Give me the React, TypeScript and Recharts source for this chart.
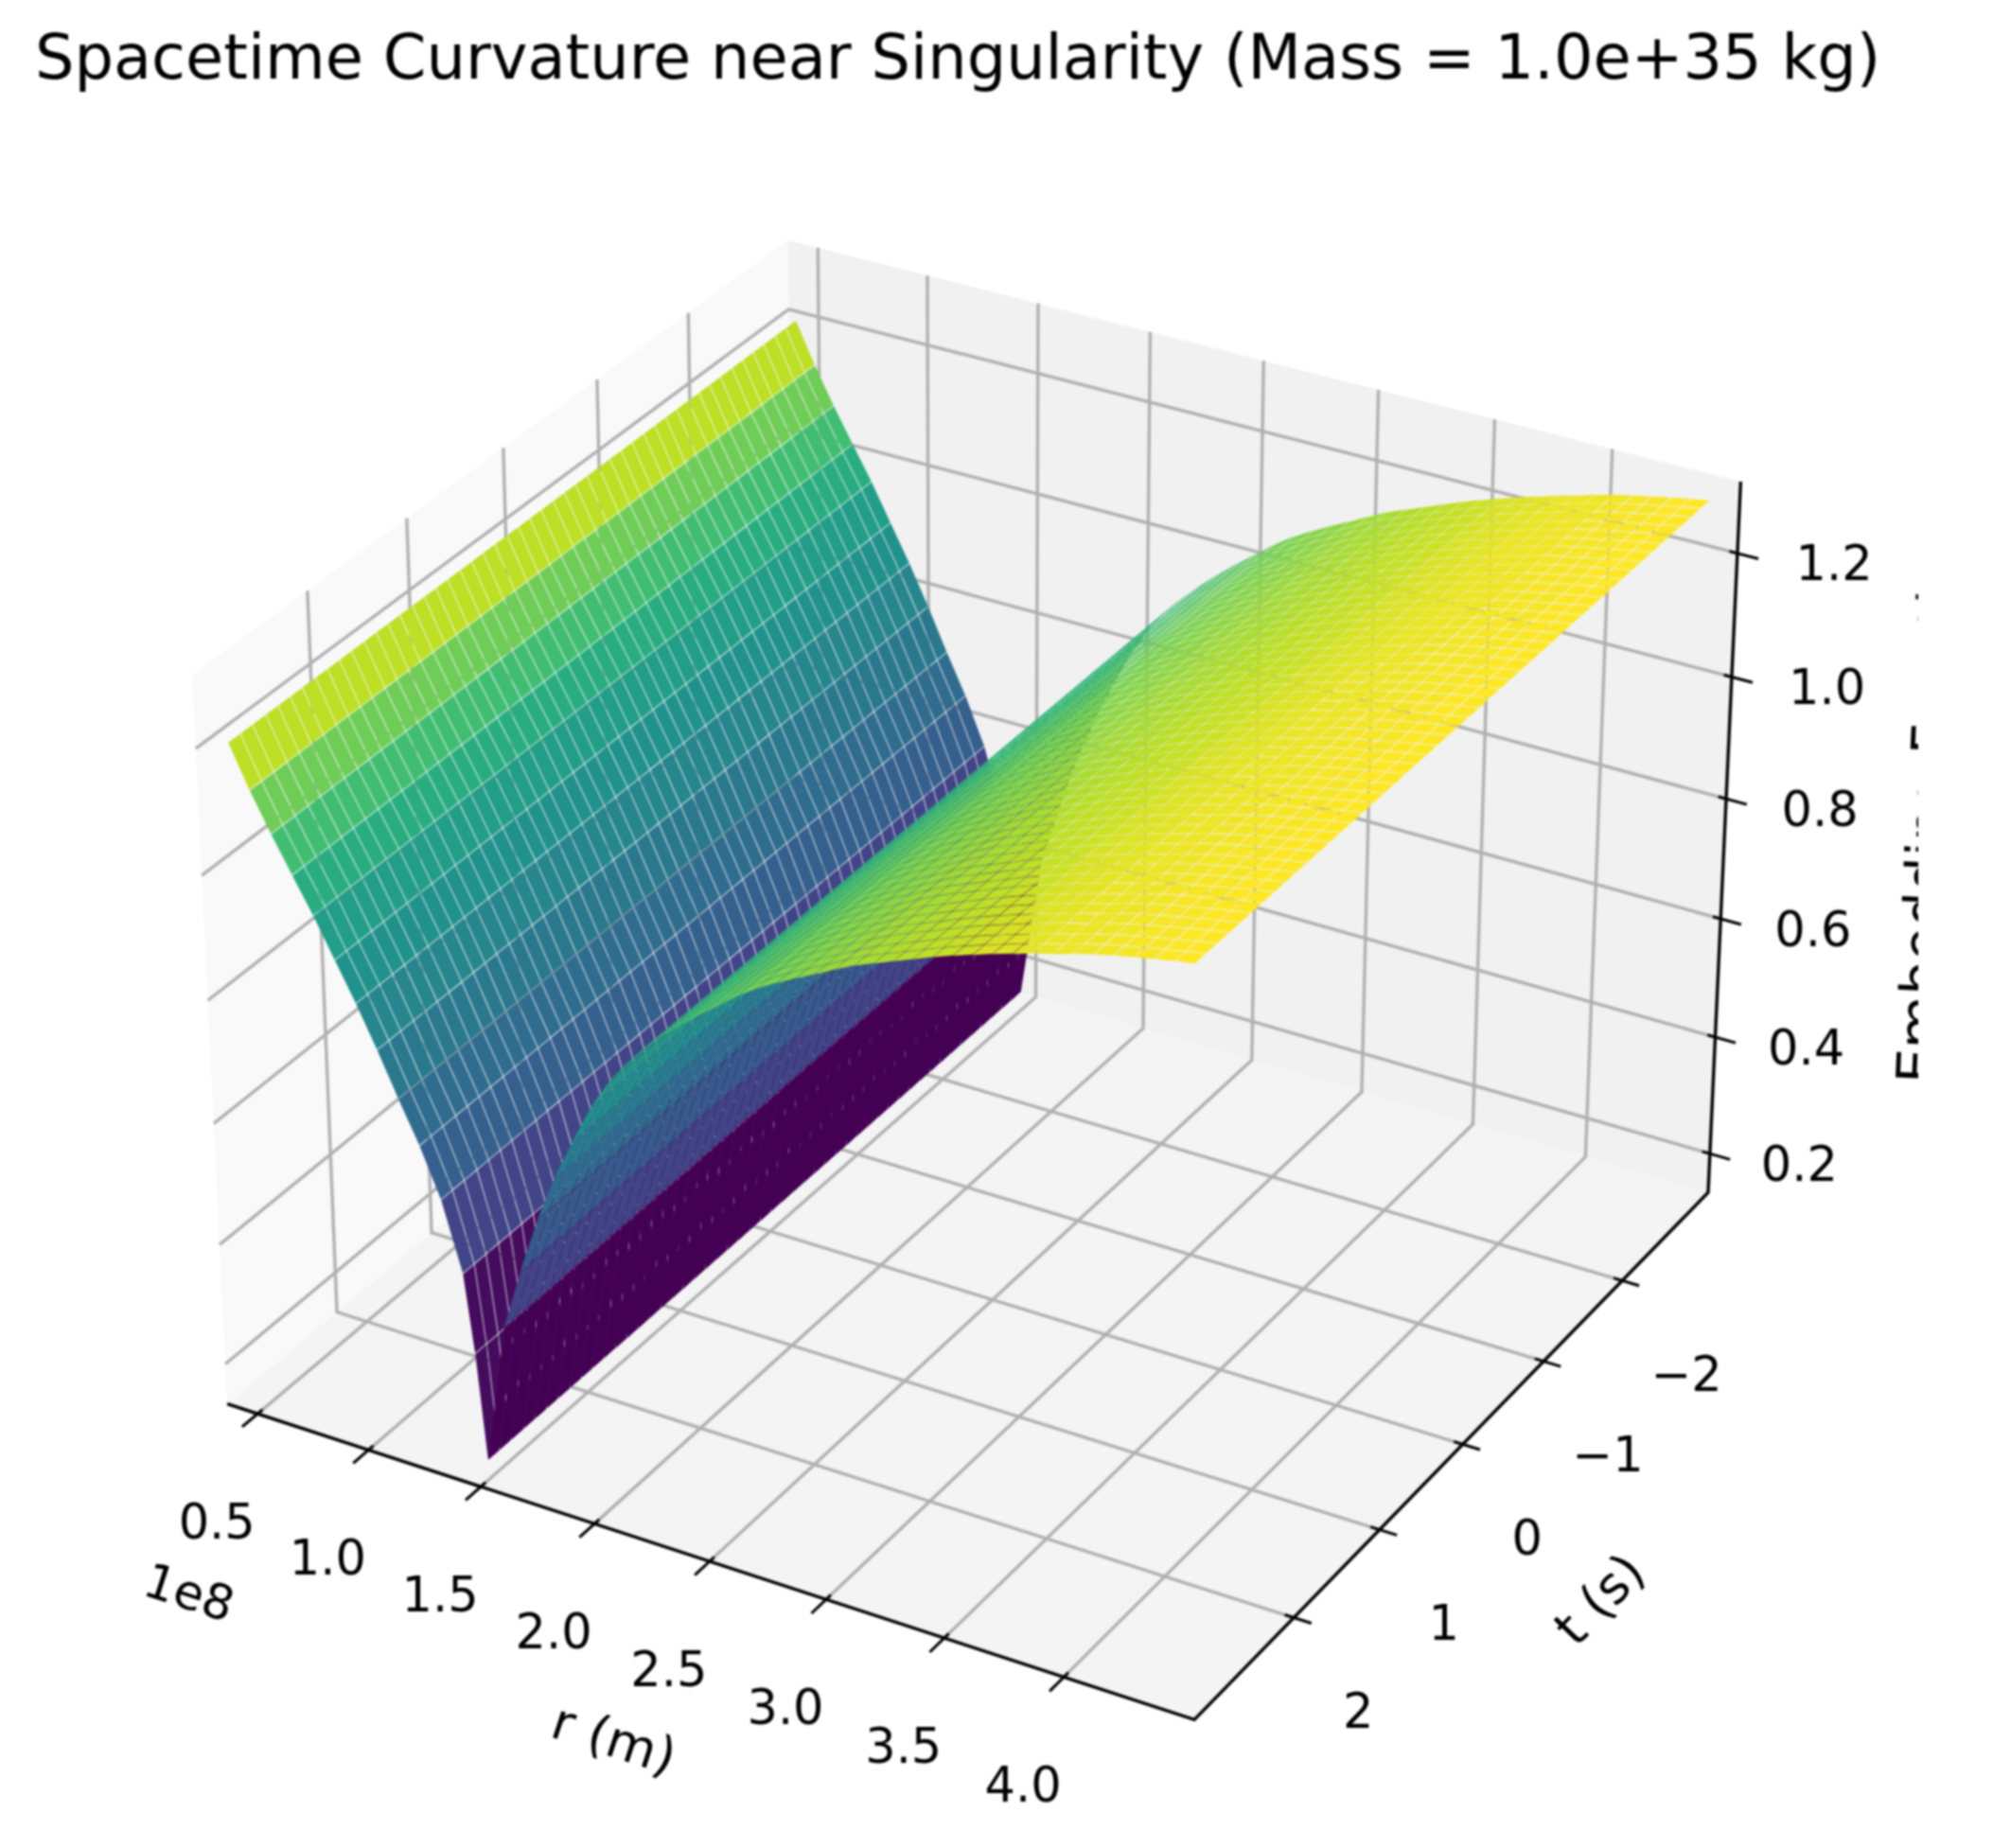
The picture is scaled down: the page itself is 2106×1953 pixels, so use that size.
import React from "react";
import { ComposedChart, Scatter, XAxis, YAxis } from "recharts";

// ---- values ----
const rTicks = [0.5, 1.0, 1.5, 2.0, 2.5, 3.0, 3.5, 4.0];
const tTicks = [-2, -1, 0, 1, 2];
const zTicks = [0.2, 0.4, 0.6, 0.8, 1.0, 1.2];
const rLim = [0.362, 4.5385];
const tLim = [3.125, -3.125];
const zLim = [0.1326, 1.3146];

const rGrid = [
  0.446, 0.532, 0.618, 0.704, 0.79, 0.877, 0.963, 1.049, 1.135, 1.221, 1.308, 1.394, 1.437, 1.48, 1.569, 1.649, 1.729,
  1.809, 1.889, 1.97, 2.05, 2.13, 2.21, 2.29, 2.37, 2.451, 2.531, 2.611, 2.691, 2.771, 2.851, 2.931, 3.012, 3.092,
  3.172, 3.252, 3.332, 3.412, 3.493, 3.573, 3.653, 3.733, 3.813, 3.893, 3.974, 4.054, 4.134, 4.214, 4.294, 4.375, 4.455,
];
const tGrid = [
  -3.0, -2.88, -2.76, -2.63, -2.51, -2.39, -2.27, -2.14, -2.02, -1.9, -1.78, -1.65, -1.53, -1.41, -1.29, -1.16, -1.04,
  -0.92, -0.8, -0.67, -0.55, -0.43, -0.31, -0.18, -0.06, 0.06, 0.18, 0.31, 0.43, 0.55, 0.67, 0.8, 0.92, 1.04, 1.16,
  1.29, 1.41, 1.53, 1.65, 1.78, 1.9, 2.02, 2.14, 2.27, 2.39, 2.51, 2.63, 2.76, 2.88, 3.0,
];
const zProfile = [
  1.203, 1.137, 1.077, 1.021, 0.966, 0.905, 0.845, 0.78, 0.711, 0.645, 0.567, 0.456, 0.329, 0.156, 0.388, 0.49, 0.583,
  0.66, 0.727, 0.79, 0.84, 0.88, 0.913, 0.942, 0.968, 0.993, 1.016, 1.04, 1.06, 1.077, 1.093, 1.108, 1.124, 1.139,
  1.151, 1.163, 1.175, 1.187, 1.198, 1.208, 1.218, 1.227, 1.236, 1.244, 1.253, 1.261, 1.268, 1.274, 1.28, 1.286, 1.291,
];
const bandLevels = [
  0.9, 0.78, 0.69, 0.62, 0.55, 0.5, 0.45, 0.4, 0.35, 0.3, 0.2, 0.03, 0.03, 0.0, 0.2, 0.28, 0.35, 0.42, 0.49, 0.55, 0.6,
  0.64, 0.67, 0.7, 0.72, 0.746, 0.768, 0.788, 0.804, 0.82, 0.832, 0.846, 0.86, 0.87, 0.882, 0.893, 0.904, 0.913, 0.923,
  0.94, 0.95, 0.96, 0.97, 0.975, 0.98, 0.985, 0.99, 0.99, 1.0, 1.0,
];
const viridis = [
  "#440154", "#482475", "#414487", "#355f8d", "#2a788e", "#21918c", "#22a884", "#44bf70", "#7ad151", "#bddf26", "#fde725",
];

// ---- 3D camera (elevation 30, azimuth -60, distance 10, box 4:4:3) ----
const boxW = 1.1905;
const boxH = 0.8929;
const centre = [1037, 998];
const zoomPx = 9834;
const seam = 0.42;
const toFrac = (v: number, lim: number[]) => (v - lim[0]) / (lim[1] - lim[0]);
const project = (a: number, b: number, c: number) => {
  const dx = (a - 0.5) * boxW;
  const dy = (b - 0.5) * boxW;
  const dz = (c - 0.5) * boxH;
  const D = 10 - (0.433 * dx - 0.75 * dy + 0.5 * dz);
  return {
    px: centre[0] + (zoomPx * (0.866 * dx + 0.5 * dy)) / D,
    py: centre[1] - (zoomPx * (-0.25 * dx + 0.433 * dy + 0.866 * dz)) / D,
    depth: D,
  };
};

const hex = (h: string) => [1, 3, 5].map((i) => parseInt(h.slice(i, i + 2), 16));
const colour = (v: number) => {
  const p = Math.min(0.9999, Math.max(0, v)) * (viridis.length - 1);
  const i = Math.floor(p);
  const A = hex(viridis[i]);
  const B = hex(viridis[i + 1]);
  const m = A.map((x, n) => Math.round(x + (B[n] - x) * (p - i)));
  return `rgb(${m[0]},${m[1]},${m[2]})`;
};

const polygonRow = (corners: { px: number; py: number; depth: number }[], fill: string) => {
  const cx = corners.reduce((s, c) => s + c.px, 0) / corners.length;
  const cy = corners.reduce((s, c) => s + c.py, 0) / corners.length;
  const depth = corners.reduce((s, c) => s + c.depth, 0) / corners.length;
  return { px: cx, py: cy, depth, fill, off: corners.map((c) => [c.px - cx, c.py - cy]) };
};

// pull every edge of a convex quad inward by a fixed distance, so the seams keep one width
const insetQuad = (off: number[][], g: number) => {
  const n = off.length;
  let area = 0;
  for (let i = 0; i < n; i++) {
    const p = off[i];
    const q = off[(i + 1) % n];
    area += p[0] * q[1] - q[0] * p[1];
  }
  if (Math.abs(area) < 1e-6) return off;
  const sign = area > 0 ? 1 : -1;
  return off.map((p, i) => {
    const prev = off[(i + n - 1) % n];
    const next = off[(i + 1) % n];
    const e1 = [p[0] - prev[0], p[1] - prev[1]];
    const e2 = [next[0] - p[0], next[1] - p[1]];
    const l1 = Math.hypot(e1[0], e1[1]) || 1;
    const l2 = Math.hypot(e2[0], e2[1]) || 1;
    const n1 = [(-e1[1] / l1) * sign, (e1[0] / l1) * sign];
    const n2 = [(-e2[1] / l2) * sign, (e2[0] / l2) * sign];
    const denom = 1 + n1[0] * n2[0] + n1[1] * n2[1];
    if (denom < 0.25) return p;
    const mx = ((n1[0] + n2[0]) / denom) * g;
    const my = ((n1[1] + n2[1]) / denom) * g;
    return [p[0] + mx, p[1] + my];
  });
};

const panes = [
  polygonRow([project(0, 0, 0), project(1, 0, 0), project(1, 1, 0), project(0, 1, 0)], "#f4f4f4"),
  polygonRow([project(0, 0, 0), project(0, 1, 0), project(0, 1, 1), project(0, 0, 1)], "#f9f9f9"),
  polygonRow([project(0, 1, 0), project(1, 1, 0), project(1, 1, 1), project(0, 1, 1)], "#f1f1f1"),
];

const quads: ReturnType<typeof polygonRow>[] = [];
for (let i = 0; i < rGrid.length - 1; i++) {
  for (let j = 0; j < tGrid.length - 1; j++) {
    const a0 = toFrac(rGrid[i], rLim);
    const a1 = toFrac(rGrid[i + 1], rLim);
    const b0 = toFrac(tGrid[j], tLim);
    const b1 = toFrac(tGrid[j + 1], tLim);
    const c0 = toFrac(zProfile[i], zLim);
    const c1 = toFrac(zProfile[i + 1], zLim);
    quads.push(
      polygonRow([project(a0, b0, c0), project(a1, b0, c1), project(a1, b1, c1), project(a0, b1, c0)], colour(bandLevels[i]))
    );
  }
}
quads.sort((p, q) => q.depth - p.depth);

type P3 = [number, number, number];
const gridSegs: P3[][] = [];
rTicks.forEach((r) => {
  const a = toFrac(r, rLim);
  gridSegs.push([[a, 0, 0], [a, 1, 0], [a, 1, 1]]);
});
tTicks.forEach((t) => {
  const b = toFrac(t, tLim);
  gridSegs.push([[1, b, 0], [0, b, 0], [0, b, 1]]);
});
zTicks.forEach((z) => {
  const c = toFrac(z, zLim);
  gridSegs.push([[0, 0, c], [0, 1, c], [1, 1, c]]);
});
const axisSegs: P3[][] = [
  [[0, 0, 0], [1, 0, 0], [1, 1, 0], [1, 1, 1]],
];
const tickSegs: P3[][] = [
  ...rTicks.map((r): P3[] => [[toFrac(r, rLim), -0.025, 0], [toFrac(r, rLim), 0.008, 0]]),
  ...tTicks.map((t): P3[] => [[1.0175, toFrac(t, tLim), 0], [0.991, toFrac(t, tLim), 0]]),
  ...zTicks.map((z): P3[] => [[1.021, 1, toFrac(z, zLim)], [0.992, 1, toFrac(z, zLim)]]),
];
const toLine = (s: P3[]) => s.map((p) => project(p[0], p[1], p[2]));

const tickFont = 51;
const titleFont = 65.4;
const axisFont = 54;
const texts = [
  { px: 37, py: 83, text: "Spacetime Curvature near Singularity (Mass = 1.0e+35 kg)", size: titleFont, anchor: "start", rot: 0, base: "alphabetic" },
  ...rTicks.map((r) => {
    const p = project(toFrac(r, rLim), 0, 0);
    return { px: p.px - 43, py: p.py + 114, text: r.toFixed(1), size: tickFont, anchor: "middle", rot: 0, base: "central" };
  }),
  ...tTicks.map((t) => {
    const p = project(1, toFrac(t, tLim), 0);
    return { px: p.px + 68, py: p.py + 99, text: String(t).replace("-", "\u2212"), size: tickFont, anchor: "middle", rot: 0, base: "central" };
  }),
  ...zTicks.map((z) => {
    const c = toFrac(z, zLim);
    const p = project(1, 1, c);
    return { px: p.px + 94 + 9 * c, py: p.py + 11, text: z.toFixed(1), size: tickFont, anchor: "middle", rot: 0, base: "central" };
  }),
  { px: 200, py: 1683, text: "1e8", size: tickFont, anchor: "middle", rot: 18, base: "central" },
  { px: 649, py: 1838, text: "r (m)", size: axisFont, anchor: "middle", rot: 18, base: "central" },
  { px: 1690, py: 1690, text: "t (s)", size: axisFont, anchor: "middle", rot: -46, base: "central" },
];
const zLabel = [{ px: 2045, py: 1146, text: "Embedding Function" }];

const noDot = () => <g />;
const PolyShape = (props: any) => {
  const { cx, cy, payload } = props;
  const pts = payload.off.map((o: number[]) => `${cx + o[0]},${cy + o[1]}`).join(" ");
  return <polygon points={pts} fill={payload.fill} stroke="none" />;
};
const QuadShape = (props: any) => {
  const { cx, cy, payload } = props;
  const pts = insetQuad(payload.off, seam)
    .map((o: number[]) => `${cx + o[0]},${cy + o[1]}`)
    .join(" ");
  return <polygon points={pts} fill={payload.fill} stroke="none" />;
};
const TextShape = (props: any) => {
  const { cx, cy, payload } = props;
  return (
    <text
      x={cx}
      y={cy}
      fontFamily="'DejaVu Sans'"
      fontSize={payload.size}
      fill="#000"
      textAnchor={payload.anchor}
      dominantBaseline={payload.base}
      transform={payload.rot ? `rotate(${payload.rot} ${cx} ${cy})` : undefined}
    >
      {payload.text}
    </text>
  );
};
const ZLabelShape = (props: any) => {
  const { cx, cy, payload } = props;
  return (
    <g>
      <defs>
        <clipPath id="zlabel-clip">
          <rect x={0} y={0} width={2027} height={1953} />
        </clipPath>
      </defs>
      <g clipPath="url(#zlabel-clip)">
        <text x={cx} y={cy} fontFamily="'DejaVu Sans'" fontSize={58} fill="#000" transform={`rotate(-87.4 ${cx} ${cy})`}>
          {payload.text}
        </text>
      </g>
    </g>
  );
};

export default function App() {
  return (
    <div style={{ position: "absolute", left: 0, top: 0, width: 2106, height: 1953, background: "#fff", filter: "blur(1.3px)", overflow: "hidden" }}>
      <ComposedChart width={2106} height={1953} margin={{ top: 0, right: 0, bottom: 0, left: 0 }}>
        <XAxis type="number" dataKey="px" domain={[0, 2106]} hide allowDataOverflow />
        <YAxis type="number" dataKey="py" domain={[0, 1953]} reversed hide allowDataOverflow />
        <Scatter data={panes} shape={PolyShape} isAnimationActive={false} />
        {gridSegs.map((s, i) => (
          <Scatter key={`g${i}`} data={toLine(s)} line={{ stroke: "#b0b0b0", strokeWidth: 3.4 }} shape={noDot} isAnimationActive={false} />
        ))}
        {axisSegs.map((s, i) => (
          <Scatter key={`a${i}`} data={toLine(s)} line={{ stroke: "#000", strokeWidth: 3.4 }} shape={noDot} isAnimationActive={false} />
        ))}
        <Scatter data={quads} shape={QuadShape} isAnimationActive={false} />
        {tickSegs.map((s, i) => (
          <Scatter key={`t${i}`} data={toLine(s)} line={{ stroke: "#000", strokeWidth: 3 }} shape={noDot} isAnimationActive={false} />
        ))}
        <Scatter data={texts} shape={TextShape} isAnimationActive={false} />
        <Scatter data={zLabel} shape={ZLabelShape} isAnimationActive={false} />
      </ComposedChart>
    </div>
  );
}
